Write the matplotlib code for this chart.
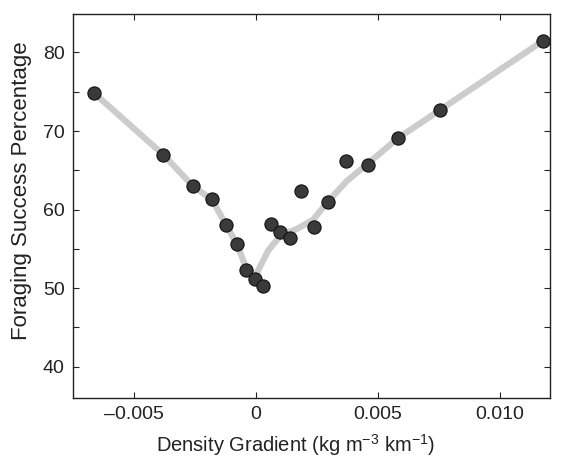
import matplotlib
matplotlib.use("Agg")
import matplotlib.pyplot as plt
from matplotlib.ticker import MultipleLocator, FuncFormatter

plt.rcParams['font.family'] = ['Liberation Sans', 'DejaVu Sans']
plt.rcParams['mathtext.fontset'] = 'custom'
plt.rcParams['mathtext.rm'] = 'Liberation Sans'
plt.rcParams['mathtext.it'] = 'Liberation Sans:italic'
plt.rcParams['mathtext.default'] = 'regular'

# Observed points
density_gradient = [-0.00661, -0.00379, -0.00257, -0.00178, -0.00120, -0.00077,
                    -0.00039, -0.00003, 0.00031, 0.00062, 0.00100, 0.00139,
                    0.00184, 0.00238, 0.00296, 0.00370, 0.00462, 0.00584,
                    0.00757, 0.01179]
foraging_success = [74.8, 67.0, 63.0, 61.3, 58.0, 55.6,
                    52.3, 51.1, 50.3, 58.1, 57.1, 56.4,
                    62.3, 57.8, 60.9, 66.2, 65.7, 69.1,
                    72.7, 81.5]

# Smoothed trend line
trend_x = [-0.00661, -0.00379, -0.00257, -0.00178, -0.00120, -0.00077, -0.00039,
           0.00000, 0.00052, 0.00100, 0.00140, 0.00168, 0.00236, 0.00290,
           0.00373, 0.00462, 0.00584, 0.00757, 0.01179]
trend_y = [74.8, 67.0, 63.0, 61.2, 58.0, 55.6, 52.6,
           51.6, 54.8, 56.6, 57.2, 57.5, 58.7, 60.8,
           63.6, 65.9, 69.1, 72.7, 81.5]

fig = plt.figure(figsize=(5.61, 4.62), dpi=100)
ax = fig.add_axes([0.130, 0.1385, 0.850, 0.8312])

ax.plot(trend_x, trend_y, color='#cccccc', lw=4.5, solid_capstyle='butt', zorder=1)
ax.plot(density_gradient, foraging_success, 'o', ms=9.5, mfc='#3a3a3a',
        mec='#111111', mew=0.8, zorder=2)

ax.set_xlim(-0.00749, 0.01206)
ax.set_ylim(36.0, 84.9)
ax.xaxis.set_major_locator(MultipleLocator(0.005))
ax.yaxis.set_major_locator(MultipleLocator(5))

def xfmt(v, pos):
    if abs(v) < 1e-9:
        return '0'
    s = f'{v:.3f}'
    return s.replace('-', '\u2013')

def yfmt(v, pos):
    return f'{int(round(v))}' if int(round(v)) % 10 == 0 else ''

ax.xaxis.set_major_formatter(FuncFormatter(xfmt))
ax.yaxis.set_major_formatter(FuncFormatter(yfmt))
ax.tick_params(direction='in', top=True, right=True, length=4, width=0.8,
               labelsize=14, colors='#222222', pad=6)
for s in ax.spines.values():
    s.set_linewidth(1.0)
    s.set_color('#222222')

ax.set_xlabel('Density Gradient (kg m$^{\u2212 3}$ km$^{\u2212 1}$)', fontsize=14.5, color='#222222')
ax.set_ylabel('Foraging Success Percentage', fontsize=16, color='#222222')
ax.xaxis.set_label_coords(0.467, -0.088)
ax.yaxis.set_label_coords(-0.085, 0.54)

fig.savefig('out.png', dpi=100)
